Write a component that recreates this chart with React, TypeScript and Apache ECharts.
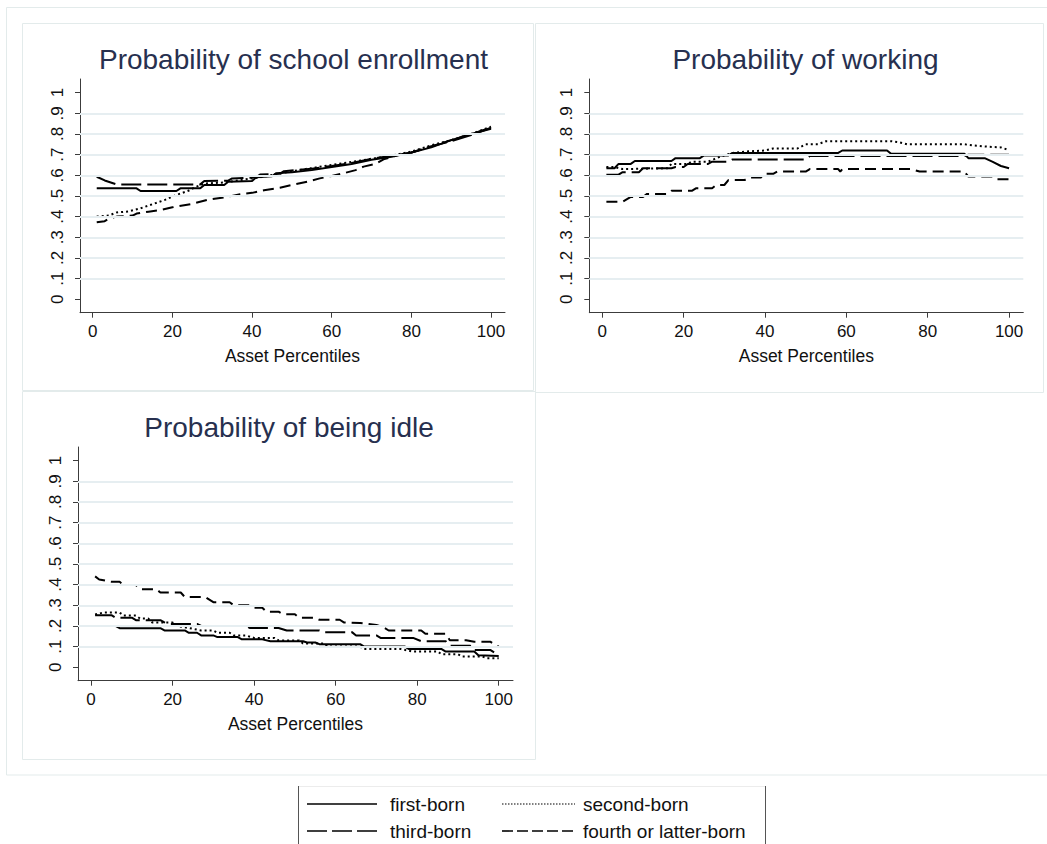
import React, { useEffect, useRef } from "react";
import * as echarts from "echarts";

// ---- tick values and labels ----
const xTicks = [0, 20, 40, 60, 80, 100];
const yTicks = [0, 0.1, 0.2, 0.3, 0.4, 0.5, 0.6, 0.7, 0.8, 0.9, 1];
const gridValues = [0.1, 0.2, 0.3, 0.4, 0.5, 0.6, 0.7, 0.8, 0.9];

const panelTitles = [
  "Probability of school enrollment",
  "Probability of working",
  "Probability of being idle",
];
const xAxisTitle = "Asset Percentiles";
const seriesNames = ["first-born", "second-born", "third-born", "fourth or latter-born"];

// ---- Probability of school enrollment ----
const enrollFirst: [number, number][] = [
  [1, 0.537], [11, 0.537], [12, 0.524], [21, 0.524], [22, 0.537], [27, 0.537], [28, 0.553],
  [33, 0.553], [34, 0.569], [40, 0.572], [41, 0.59], [45, 0.595], [46, 0.61], [50, 0.615],
  [55, 0.625], [60, 0.64], [65, 0.655], [70, 0.675], [75, 0.69], [80, 0.71], [85, 0.735],
  [90, 0.77], [95, 0.8], [100, 0.825],
];
const enrollSecond: [number, number][] = [
  [1, 0.4], [4, 0.405], [6, 0.42], [9, 0.425], [12, 0.44], [15, 0.46], [18, 0.48], [21, 0.505],
  [24, 0.525], [26, 0.545], [28, 0.56], [33, 0.565], [38, 0.58], [42, 0.59], [46, 0.605],
  [50, 0.62], [55, 0.635], [60, 0.65], [65, 0.665], [70, 0.68], [75, 0.695], [80, 0.715],
  [85, 0.745], [90, 0.77], [95, 0.8], [100, 0.835],
];
const enrollThird: [number, number][] = [
  [1, 0.593], [3, 0.575], [6, 0.556], [27, 0.556], [28, 0.572], [34, 0.574], [35, 0.585],
  [41, 0.59], [42, 0.604], [47, 0.607], [48, 0.62], [55, 0.632], [60, 0.645], [65, 0.66],
  [70, 0.68], [75, 0.695], [80, 0.71], [85, 0.74], [90, 0.765], [95, 0.795], [100, 0.83],
];
const enrollFourth: [number, number][] = [
  [1, 0.373], [3, 0.378], [4, 0.39], [6, 0.4], [10, 0.405], [11, 0.415], [14, 0.424],
  [17, 0.432], [20, 0.445], [25, 0.462], [29, 0.482], [33, 0.493], [37, 0.508], [40, 0.515],
  [43, 0.528], [47, 0.54], [50, 0.553], [54, 0.57], [57, 0.585], [60, 0.597], [63, 0.61],
  [66, 0.625], [68, 0.642], [71, 0.655], [73, 0.677], [77, 0.7], [80, 0.71], [85, 0.74],
  [90, 0.77], [95, 0.8], [100, 0.83],
];

// ---- Probability of working ----
const workFirst: [number, number][] = [
  [1, 0.634], [3, 0.634], [4, 0.655], [7, 0.655], [8, 0.669], [17, 0.669], [18, 0.683],
  [24, 0.683], [25, 0.696], [31, 0.696], [32, 0.708], [58, 0.708], [59, 0.72], [70, 0.72],
  [71, 0.704], [89, 0.704], [90, 0.683], [94, 0.683], [96, 0.665], [98, 0.645], [100, 0.634],
];
const workSecond: [number, number][] = [
  [1, 0.64], [3, 0.64], [5, 0.63], [16, 0.634], [17, 0.655], [21, 0.655], [22, 0.666],
  [26, 0.666], [29, 0.69], [32, 0.708], [36, 0.716], [40, 0.72], [42, 0.73], [48, 0.73],
  [50, 0.75], [53, 0.75], [55, 0.765], [71, 0.765], [73, 0.76], [75, 0.75], [89, 0.75],
  [91, 0.745], [95, 0.738], [98, 0.735], [100, 0.722],
];
const workThird: [number, number][] = [
  [1, 0.603], [4, 0.603], [5, 0.615], [9, 0.615], [10, 0.634], [17, 0.634], [18, 0.64],
  [20, 0.64], [21, 0.655], [26, 0.655], [27, 0.666], [31, 0.666], [32, 0.677], [50, 0.677],
  [51, 0.693], [89, 0.693], [90, 0.7], [100, 0.7],
];
const workFourth: [number, number][] = [
  [1, 0.472], [5, 0.472], [7, 0.495], [10, 0.495], [11, 0.51], [16, 0.51], [17, 0.525],
  [22, 0.525], [23, 0.537], [27, 0.537], [28, 0.553], [30, 0.553], [31, 0.577], [35, 0.577],
  [36, 0.589], [39, 0.589], [40, 0.607], [42, 0.607], [43, 0.618], [50, 0.618], [51, 0.63],
  [58, 0.63], [58.5, 0.618], [59, 0.63], [76, 0.63], [78, 0.618], [89, 0.618], [90, 0.594],
  [96, 0.594], [97, 0.581], [100, 0.581],
];

// ---- Probability of being idle ----
const idleFirst: [number, number][] = [
  [1, 0.2], [6, 0.2], [7, 0.189], [17, 0.189], [18, 0.178], [23, 0.178], [24, 0.167],
  [26, 0.167], [27, 0.154], [30, 0.154], [31, 0.146], [36, 0.146], [37, 0.135], [42, 0.135],
  [44, 0.126], [52, 0.126], [53, 0.12], [55, 0.12], [56, 0.112], [66, 0.112], [67, 0.1],
  [77, 0.1], [78, 0.088], [86, 0.088], [87, 0.076], [94, 0.076], [95, 0.058], [100, 0.055],
];
const idleSecond: [number, number][] = [
  [1, 0.255], [3, 0.265], [7, 0.265], [8, 0.25], [11, 0.25], [12, 0.236], [14, 0.236],
  [15, 0.217], [20, 0.217], [21, 0.2], [24, 0.19], [27, 0.178], [30, 0.178], [31, 0.167],
  [34, 0.167], [35, 0.154], [38, 0.154], [40, 0.142], [45, 0.142], [46, 0.13], [51, 0.13],
  [52, 0.115], [57, 0.115], [58, 0.1], [66, 0.1], [67, 0.088], [76, 0.088], [79, 0.076],
  [85, 0.076], [86, 0.063], [90, 0.063], [91, 0.052], [96, 0.052], [97, 0.044], [100, 0.044],
];
const idleThird: [number, number][] = [
  [1, 0.252], [5, 0.252], [6, 0.24], [10, 0.24], [11, 0.228], [17, 0.228], [18, 0.217],
  [19, 0.21], [26, 0.21], [27, 0.2], [38, 0.2], [39, 0.19], [46, 0.19], [48, 0.178],
  [56, 0.178], [57, 0.17], [64, 0.17], [65, 0.154], [70, 0.154], [71, 0.142], [79, 0.142],
  [81, 0.126], [87, 0.126], [88, 0.104], [93, 0.104], [94, 0.083], [98, 0.083], [99, 0.07],
  [100, 0.06],
];
const idleFourth: [number, number][] = [
  [1, 0.44], [2, 0.425], [5, 0.414], [7, 0.414], [8, 0.398], [11, 0.398], [12, 0.378],
  [16, 0.378], [17, 0.362], [22, 0.362], [23, 0.34], [28, 0.34], [30, 0.315], [34, 0.315],
  [35, 0.3], [39, 0.3], [40, 0.288], [42, 0.288], [43, 0.269], [46, 0.269], [47, 0.257],
  [50, 0.257], [51, 0.24], [55, 0.24], [56, 0.23], [61, 0.23], [62, 0.217], [66, 0.214],
  [70, 0.205], [72, 0.19], [73, 0.178], [81, 0.178], [82, 0.162], [87, 0.162], [88, 0.131],
  [92, 0.131], [94, 0.123], [98, 0.123], [99, 0.11], [100, 0.1],
];

const panelData = [
  [enrollFirst, enrollSecond, enrollThird, enrollFourth],
  [workFirst, workSecond, workThird, workFourth],
  [idleFirst, idleSecond, idleThird, idleFourth],
];

// ---- layout and style ----
const FONT = "'Liberation Sans', Arial, Helvetica, sans-serif";
const TITLE_COLOR = "#27304f";
const AXIS_COLOR = "#3c3c3c";
const GRID_COLOR = "#e6eef1";
const FRAME_COLOR = "#e3ebeb";

const X_MIN = -3.2;
const X_MAX = 103.5;
const Y_MIN = -0.065;
const Y_MAX = 1.066;

// plot areas and panel frames
const plotBoxes = [
  { left: 80, top: 79, width: 425, height: 233.7 },
  { left: 589.3, top: 79, width: 434, height: 233.7 },
  { left: 78, top: 447, width: 435, height: 233.7 },
];
const panelFrames = [
  { x: 22.5, y: 23.5, w: 511, h: 367 },
  { x: 535.5, y: 23.5, w: 508, h: 369 },
  { x: 22.5, y: 391.5, w: 513, h: 368 },
];
const titlePos = [
  { x: 293.5, y: 59.5 },
  { x: 805.5, y: 59.5 },
  { x: 289, y: 427.5 },
];

const lineTypes: any[] = ["solid", [2, 3], [20, 6], [11, 6]];
const legendDash: any[] = [null, [1.5, 1.5], [20, 5], [11, 4]];

const yLabel = (v: number) => {
  if (Math.abs(v) < 1e-9) return "0";
  if (Math.abs(v - 1) < 1e-9) return "1";
  return "." + Math.round(v * 10);
};

export default function App() {
  const ref = useRef<HTMLDivElement>(null);

  useEffect(() => {
    document.body.style.margin = "0";
    if (!ref.current) return;
    const chart = echarts.init(ref.current, undefined, { renderer: "svg" });

    const grid = plotBoxes.map((b) => ({ ...b, containLabel: false }));

    const xAxis = plotBoxes.map((_, i) => ({
      type: "value",
      gridIndex: i,
      min: X_MIN,
      max: X_MAX,
      axisLine: { show: true, onZero: false, lineStyle: { color: AXIS_COLOR, width: 1 } },
      axisTick: { show: true, length: 5, customValues: xTicks, lineStyle: { color: AXIS_COLOR } },
      axisLabel: {
        customValues: xTicks,
        fontSize: 17,
        fontFamily: FONT,
        color: "#111",
        margin: 10,
      },
      splitLine: { show: false },
      name: xAxisTitle,
      nameLocation: "middle",
      nameGap: 34,
      nameTextStyle: { fontSize: 17.5, fontFamily: FONT, color: "#111" },
    }));

    const yAxis = plotBoxes.map((_, i) => ({
      type: "value",
      gridIndex: i,
      min: Y_MIN,
      max: Y_MAX,
      axisLine: { show: true, onZero: false, lineStyle: { color: AXIS_COLOR, width: 1 } },
      axisTick: { show: true, length: 5, customValues: yTicks, lineStyle: { color: AXIS_COLOR } },
      axisLabel: {
        customValues: yTicks,
        rotate: 90,
        formatter: yLabel,
        fontSize: 17,
        fontFamily: FONT,
        color: "#111",
        margin: 14,
      },
      splitLine: { show: false },
    }));

    const series: any[] = [];
    plotBoxes.forEach((_, i) => {
      // horizontal grid lines
      series.push({
        type: "line",
        xAxisIndex: i,
        yAxisIndex: i,
        data: [],
        silent: true,
        z: 1,
        markLine: {
          silent: true,
          symbol: ["none", "none"],
          label: { show: false },
          lineStyle: { color: GRID_COLOR, width: 2, type: "solid" },
          data: gridValues.map((v) => ({ yAxis: v })),
        },
      });
      panelData[i].forEach((d, k) => {
        series.push({
          name: seriesNames[k],
          type: "line",
          xAxisIndex: i,
          yAxisIndex: i,
          data: d,
          symbol: "none",
          silent: true,
          z: 3,
          lineStyle: { color: "#000", width: 2, type: lineTypes[k] },
        });
      });
    });

    const graphic: any[] = [];
    // outer frame
    graphic.push({
      type: "rect",
      silent: true,
      shape: { x: 6.5, y: 7.5, width: 1050, height: 767.5 },
      style: { fill: "none", stroke: FRAME_COLOR, lineWidth: 1 },
    });
    panelFrames.forEach((f) => {
      graphic.push({
        type: "rect",
        silent: true,
        shape: { x: f.x, y: f.y, width: f.w, height: f.h },
        style: { fill: "none", stroke: FRAME_COLOR, lineWidth: 1 },
      });
    });
    panelTitles.forEach((t, i) => {
      graphic.push({
        type: "text",
        silent: true,
        x: titlePos[i].x,
        y: titlePos[i].y,
        style: {
          text: t,
          fill: TITLE_COLOR,
          font: `28px ${FONT}`,
          textAlign: "center",
          textVerticalAlign: "middle",
        },
      });
    });

    // legend box
    graphic.push({
      type: "line",
      silent: true,
      shape: { x1: 298.5, y1: 786.5, x2: 765.5, y2: 786.5 },
      style: { stroke: "#ececec", lineWidth: 1 },
    });
    [298.5, 765.5].forEach((x) => {
      graphic.push({
        type: "line",
        silent: true,
        shape: { x1: x, y1: 786, x2: x, y2: 850 },
        style: { stroke: "#555", lineWidth: 1 },
      });
    });
    const legendCols = [
      { lx1: 307, lx2: 377, tx: 390 },
      { lx1: 502, lx2: 575, tx: 583 },
    ];
    const legendRows = [804, 831];
    seriesNames.forEach((name, k) => {
      const col = legendCols[k % 2];
      const y = legendRows[Math.floor(k / 2)];
      graphic.push({
        type: "line",
        silent: true,
        shape: { x1: col.lx1, y1: y, x2: col.lx2, y2: y },
        style: {
          stroke: "#000",
          lineWidth: k === 1 ? 1.2 : 1.6,
          lineDash: legendDash[k],
        },
      });
      graphic.push({
        type: "text",
        silent: true,
        x: col.tx,
        y: y,
        style: {
          text: name,
          fill: "#111",
          font: `19px ${FONT}`,
          textAlign: "left",
          textVerticalAlign: "middle",
        },
      });
    });

    chart.setOption({
      animation: false,
      backgroundColor: "#ffffff",
      grid,
      xAxis,
      yAxis,
      series,
      graphic,
    });

    return () => {
      chart.dispose();
    };
  }, []);

  return <div ref={ref} style={{ width: 1047, height: 844 }} />;
}
